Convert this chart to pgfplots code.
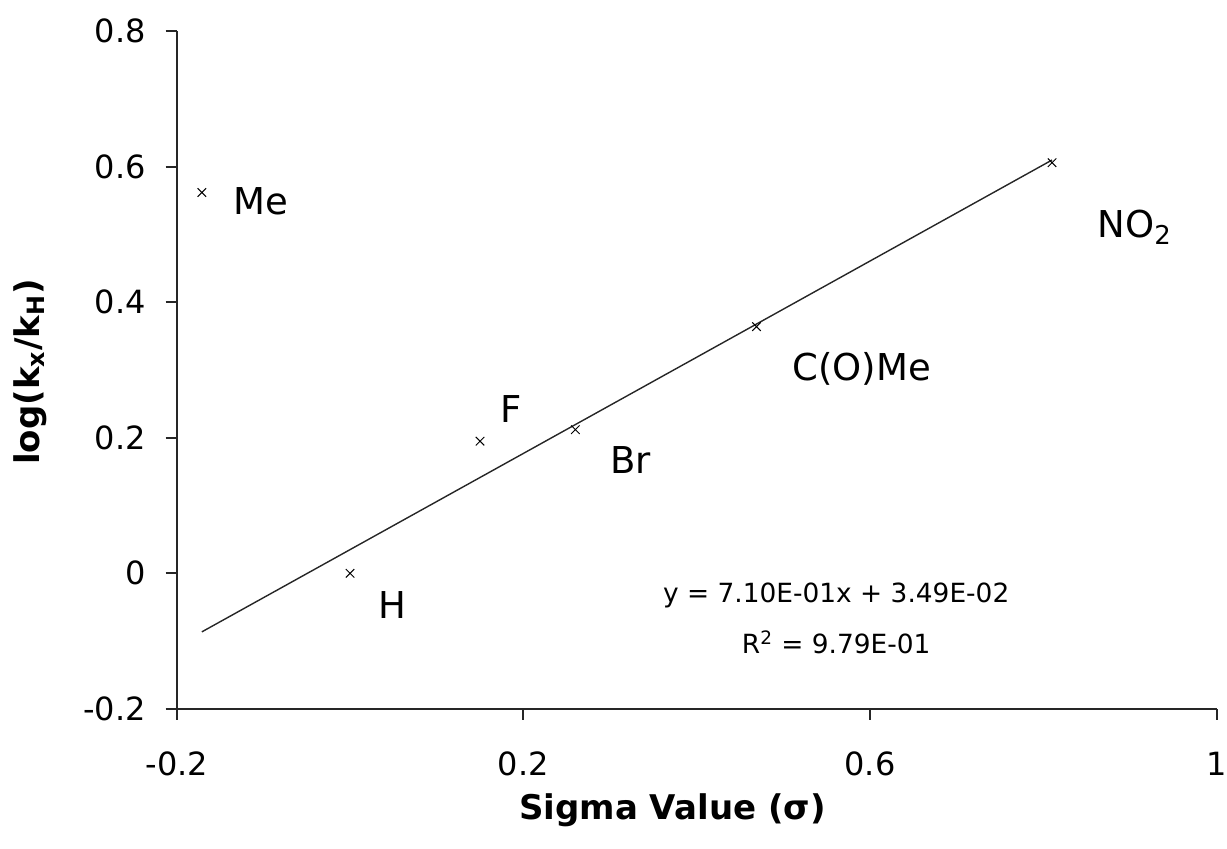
\documentclass[border=0pt]{standalone}
\usepackage{pgfplots}
\pgfplotsset{compat=1.18}
\usepackage{fontspec}
\setmainfont{DejaVu Sans}
\begin{document}
\begin{tikzpicture}
\begin{axis}[
  scale only axis, width=520pt, height=338.75pt,
  xmin=-0.2, xmax=1, ymin=-0.2, ymax=0.8,
  axis x line*=bottom, axis y line*=left,
  axis line style={line width=1pt, black!85, -},
  xtick={-0.2,0.2,0.6,1}, xticklabels={-0.2,0.2,0.6,1},
  ytick={-0.2,0,0.2,0.4,0.6,0.8}, yticklabels={-0.2,0,0.2,0.4,0.6,0.8},
  xtick pos=bottom, ytick pos=left,
  xtick align=outside, ytick align=outside,
  major tick length=5.5pt,
  every tick/.style={line width=1pt, black!85},
  ticklabel style={font=\fontsize{16}{19}\selectfont},
  xticklabel style={yshift=-12.5pt},
  yticklabel style={xshift=-6.5pt},
  clip=false,
]
\addplot[only marks, mark=x, mark size=3pt, mark options={line width=0.5pt, black}]
  coordinates {(-0.171,0.562)(0,0)(0.15,0.195)(0.26,0.212)(0.469,0.364)(0.81,0.606)};
\addplot[line width=0.7pt, black!85, no marks]
  coordinates {(-0.171,-0.0865)(0.81,0.6100)};
\begin{scope}[every node/.style={anchor=base west, inner sep=0pt, font=\fontsize{18.5}{22}\selectfont}]
\node at (axis cs:-0.135,0.529) {Me};
\node at (axis cs:0.032,-0.066) {H};
\node at (axis cs:0.173,0.223) {F};
\node at (axis cs:0.300,0.148) {Br};
\node at (axis cs:0.510,0.285) {C(O)Me};
\node at (axis cs:0.862,0.496) {NO\textsubscript{2}};
\end{scope}
\node[anchor=base, inner sep=0pt, font=\fontsize{13.2}{16}\selectfont] at (axis cs:0.561,-0.0424) {y = 7.10E-01x + 3.49E-02};
\node[anchor=base, inner sep=0pt, font=\fontsize{13.2}{16}\selectfont] at (axis cs:0.561,-0.1177) {R\textsuperscript{2} = 9.79E-01};
\node[anchor=base, inner sep=0pt, font=\bfseries\fontsize{17}{20}\selectfont] at (axis cs:0.372,-0.364) {Sigma Value (σ)};
\node[rotate=90, anchor=center, inner sep=0pt, font=\bfseries\fontsize{17}{20}\selectfont] at (axis cs:-0.369,0.297) {log(k\textsubscript{x}/k\textsubscript{H})};
\end{axis}
\pgfresetboundingbox
\path[use as bounding box] ([shift={(-88.35pt,-69.75pt)}]current axis.south west) rectangle ([shift={(5.15pt,15.65pt)}]current axis.north east);
\end{tikzpicture}
\end{document}
